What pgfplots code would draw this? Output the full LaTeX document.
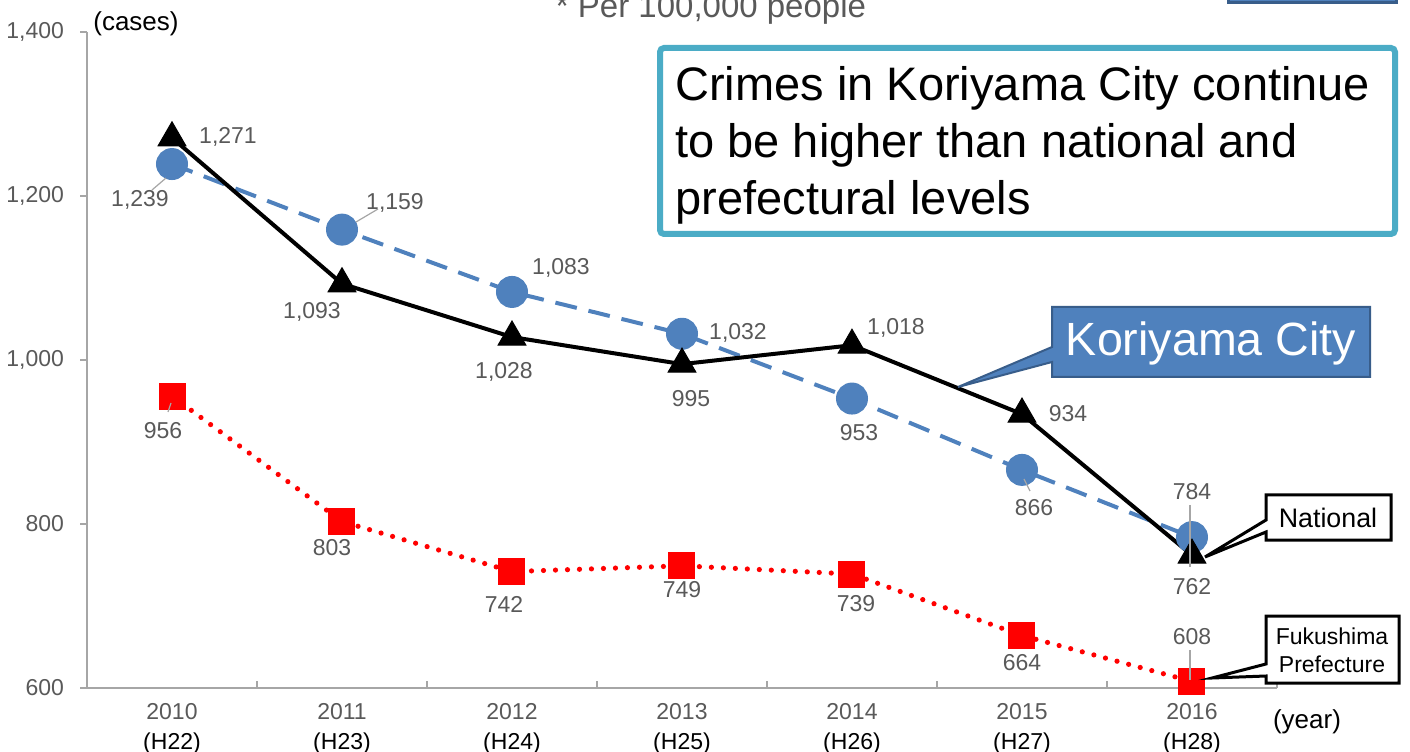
\documentclass[border=0pt]{standalone}
\usepackage{pgfplots}
\pgfplotsset{compat=1.18}
\usepackage{fontspec}
\setmainfont{Liberation Sans}
\definecolor{kblue}{HTML}{4F81BD}
\definecolor{kbluedark}{HTML}{385D8A}
\definecolor{boxteal}{HTML}{4BACC6}
\definecolor{txtgray}{HTML}{595959}
\definecolor{axgray}{HTML}{A6A6A6}
\tikzset{lbl/.style={txtgray, font=\fontsize{11.5}{13}\selectfont, inner sep=0pt}}

\begin{document}
\begin{tikzpicture}
\useasboundingbox (0,0) rectangle (705pt,375.5pt);
\begin{axis}[
    at={(43.5pt,31.5pt)}, anchor=south west,
    scale only axis, width=595pt, height=328pt,
    xmin=-0.5, xmax=6.5, ymin=600, ymax=1400,
    axis x line=bottom, axis y line=left,
    axis line style={-, axgray, line width=1pt},
    xtick={-0.5,0.5,...,6.5},
    x tick label as interval,
    xticklabels={
        {\textcolor{txtgray}{2010}\\(H22)},
        {\textcolor{txtgray}{2011}\\(H23)},
        {\textcolor{txtgray}{2012}\\(H24)},
        {\textcolor{txtgray}{2013}\\(H25)},
        {\textcolor{txtgray}{2014}\\(H26)},
        {\textcolor{txtgray}{2015}\\(H27)},
        {\textcolor{txtgray}{2016}\\(H28)}},
    x tick label style={align=center, font=\fontsize{11.5}{15}\selectfont, yshift=-4pt},
    ytick={600,800,...,1400},
    y tick label style={txtgray, font=\fontsize{11.5}{13}\selectfont, xshift=-8pt},
    /pgf/number format/1000 sep={,},
    /pgf/number format/assume math mode=true,
    tick align=inside, major tick length=3.5pt,
    tick style={axgray, line width=0.8pt},
    y tick style={xshift=-3.5pt},
    clip=false,
]
% Koriyama City (blue)
\addplot[kblue, line width=2pt, dash pattern=on 11pt off 6pt,
    mark=*, mark size=7pt, mark options={solid, fill=kblue, draw=kblue}]
    coordinates {(0,1239) (1,1159) (2,1083) (3,1032) (4,953) (5,866) (6,784)};
% National (black)
\addplot[black, line width=2pt,
    mark=triangle*, mark size=8pt, mark options={solid, fill=black, line width=0.5pt}]
    coordinates {(0,1271) (1,1093) (2,1028) (3,995) (4,1018) (5,934) (6,762)};
% Fukushima Prefecture (red)
\addplot[red, line width=2.6pt, line cap=round, dash pattern=on 0pt off 6pt,
    mark=square*, mark size=6.5pt, mark options={solid, fill=red, draw=red, line width=0.5pt}]
    coordinates {(0,956) (1,803) (2,742) (3,749) (4,739) (5,664) (6,608)};

% value labels
\node[lbl] at (axis cs:0,1271) [xshift=28pt, yshift=0.5pt] {1,271};
\node[lbl] at (axis cs:0,1239) [xshift=-16pt, yshift=-18pt] {1,239};
\node[lbl] at (axis cs:1,1159) [xshift=26.5pt, yshift=13.5pt] {1,159};
\node[lbl] at (axis cs:1,1093) [xshift=-15pt, yshift=-14pt] {1,093};
\node[lbl] at (axis cs:2,1083) [xshift=24.5pt, yshift=12pt] {1,083};
\node[lbl] at (axis cs:2,1028) [xshift=-4pt, yshift=-17.5pt] {1,028};
\node[lbl] at (axis cs:3,1032) [xshift=28pt, yshift=0.5pt] {1,032};
\node[lbl] at (axis cs:3,995) [xshift=4.5pt, yshift=-17pt] {995};
\node[lbl] at (axis cs:4,1018) [xshift=22pt, yshift=8.5pt] {1,018};
\node[lbl] at (axis cs:4,953) [xshift=3.5pt, yshift=-17pt] {953};
\node[lbl] at (axis cs:5,934) [xshift=23pt, yshift=0.5pt] {934};
\node[lbl] at (axis cs:5,866) [xshift=6pt, yshift=-19pt] {866};
\node[lbl] at (axis cs:6,784) [yshift=23pt] {784};
\node[lbl] at (axis cs:6,762) [yshift=-15.5pt] {762};
\node[lbl] at (axis cs:0,956) [xshift=-4.5pt, yshift=-17pt] {956};
\node[lbl] at (axis cs:1,803) [xshift=-5pt, yshift=-13pt] {803};
\node[lbl] at (axis cs:2,742) [xshift=-4pt, yshift=-16.5pt] {742};
\node[lbl] at (axis cs:3,749) [yshift=-12pt] {749};
\node[lbl] at (axis cs:4,739) [xshift=2pt, yshift=-15pt] {739};
\node[lbl] at (axis cs:5,664) [yshift=-13.5pt] {664};
\node[lbl] at (axis cs:6,608) [yshift=22.5pt] {608};
\end{axis}

% annotations in pixel coordinates (origin top left)
\begin{scope}[x=0.5pt, y=-0.5pt, shift={(0,375.5pt)}]
  % leader lines
  \begin{scope}[axgray, line width=0.6pt]
    \draw (152,190) -- (166,178);
    \draw (378,209) -- (356,222);
    \draw (168,412) -- (171,403);
    \draw (1024,479) -- (1030,491);
    \draw (1190,505) -- (1190,567);
    \draw (1190,650) -- (1190,680);
  \end{scope}
  % texts around the axis
  \node[font=\fontsize{13}{15}\selectfont] at (136,24) {(cases)};
  \node[font=\fontsize{13}{15}\selectfont] at (1307,722) {(year)};
  \node[txtgray, anchor=base, font=\fontsize{16.5}{18}\selectfont] at (711,18) {* Per 100,000 people};
  \draw[kbluedark, fill=kblue, line width=1.5pt] (1228,-20) rectangle (1396,3);
  % message box
  \draw[boxteal, line width=3pt, fill=white, rounded corners=2pt] (660,48) rectangle (1395,234);
  \node[anchor=west, align=left, inner sep=0pt, font=\fontsize{23.5}{28.5}\selectfont]
    at (675,145) {Crimes in Koriyama City continue\\to be higher than national and\\prefectural levels};
  % callouts
  \draw[kbluedark, fill=kblue, line width=1pt]
    (1052,307) -- (1370,307) -- (1370,377) -- (1052,377) -- (1052,362) -- (958,387) -- (1052,347) -- cycle;
  \node[white, font=\fontsize{23.3}{26}\selectfont] at (1211,343) {Koriyama City};
  \draw[black, fill=white, line width=1.5pt]
    (1266,495) -- (1391,495) -- (1391,540) -- (1266,540) -- (1266,532) -- (1205,557) -- (1266,520) -- cycle;
  \node[font=\fontsize{13.4}{15}\selectfont] at (1328,518) {National};
  \draw[black, fill=white, line width=1.5pt]
    (1266,616) -- (1399,616) -- (1399,683) -- (1266,683) -- (1266,676) -- (1212,678) -- (1266,664) -- cycle;
  \node[align=center, font=\fontsize{11.5}{14}\selectfont] at (1332,650) {Fukushima\\Prefecture};
\end{scope}
\end{tikzpicture}
\end{document}
